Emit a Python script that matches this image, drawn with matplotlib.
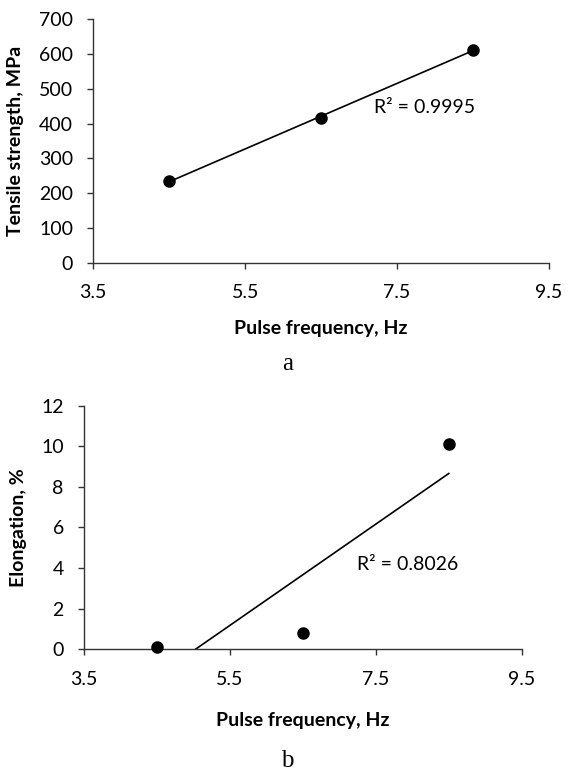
"Tensile strength and elongation vs pulse frequency"

import matplotlib
matplotlib.use("Agg")
import matplotlib.pyplot as plt
import numpy as np

plt.rcParams['font.family'] = ['Lato', 'DejaVu Sans']

# data
freq = np.array([4.5, 6.5, 8.5])
strength = np.array([235, 417, 612])
elongation = np.array([0.1, 0.8, 10.1])

x_ticks = [3.5, 5.5, 7.5, 9.5]
strength_ticks = [0, 100, 200, 300, 400, 500, 600, 700]
elong_ticks = [0, 2, 4, 6, 8, 10, 12]

FS = 14


def linear_fit(x, y):
    k, b = np.polyfit(x, y, 1)
    return k, b


def style(ax):
    ax.spines['top'].set_visible(False)
    ax.spines['right'].set_visible(False)
    for s in ('left', 'bottom'):
        ax.spines[s].set_color('#333333')
        ax.spines[s].set_linewidth(1.0)
    ax.tick_params(direction='out', length=4.5, width=1.0, color='#333333',
                   labelsize=FS)
    ax.tick_params(axis='y', pad=10)
    ax.tick_params(axis='x', pad=11)
    ax.set_xlim(3.5, 9.5)
    ax.set_xticks(x_ticks)
    ax.set_xticklabels([str(t) for t in x_ticks])


fig = plt.figure(figsize=(5.71, 7.73), dpi=100)

# (a) tensile strength
ax1 = fig.add_axes([0.1634, 0.6602, 0.798, 0.3149])
style(ax1)
k, b = linear_fit(freq, strength)
ax1.plot(freq, k * freq + b, color='black', lw=1.2)
ax1.plot(freq, strength, 'o', color='black', ms=8)
ax1.set_ylim(0, 700)
ax1.set_yticks(strength_ticks)
ax1.text(7.2, 446, "R² = 0.9995", fontsize=FS, va='center', ha='left')
ax1.set_xlabel("Pulse frequency, Hz", fontsize=FS, fontweight='bold')
ax1.set_ylabel("Tensile strength, MPa", fontsize=FS, fontweight='bold')
ax1.xaxis.set_label_coords(0.5, -0.236)
ax1.yaxis.set_label_coords(-0.152, 0.5)

# (b) elongation
ax2 = fig.add_axes([0.1471, 0.1604, 0.7666, 0.3144])
style(ax2)
k, b = linear_fit(freq, elongation)
ax2.plot(freq, k * freq + b, color='black', lw=1.2)
ax2.plot(freq, elongation, 'o', color='black', ms=8, clip_on=False, zorder=3)
ax2.set_ylim(0, 12)
ax2.set_yticks(elong_ticks)
ax2.text(7.24, 4.17, "R² = 0.8026", fontsize=FS, va='center', ha='left')
ax2.set_xlabel("Pulse frequency, Hz", fontsize=FS, fontweight='bold')
ax2.set_ylabel("Elongation, %", fontsize=FS, fontweight='bold')
ax2.xaxis.set_label_coords(0.5, -0.259)
ax2.yaxis.set_label_coords(-0.130, 0.5)

# captions
fig.text(0.503, 0.5210, "a", fontsize=18, family='Liberation Serif',
         ha='center', va='baseline')
fig.text(0.503, 0.001, "b", fontsize=18, family='Liberation Serif',
         ha='center', va='bottom')

fig.savefig("out.png", dpi=100)
